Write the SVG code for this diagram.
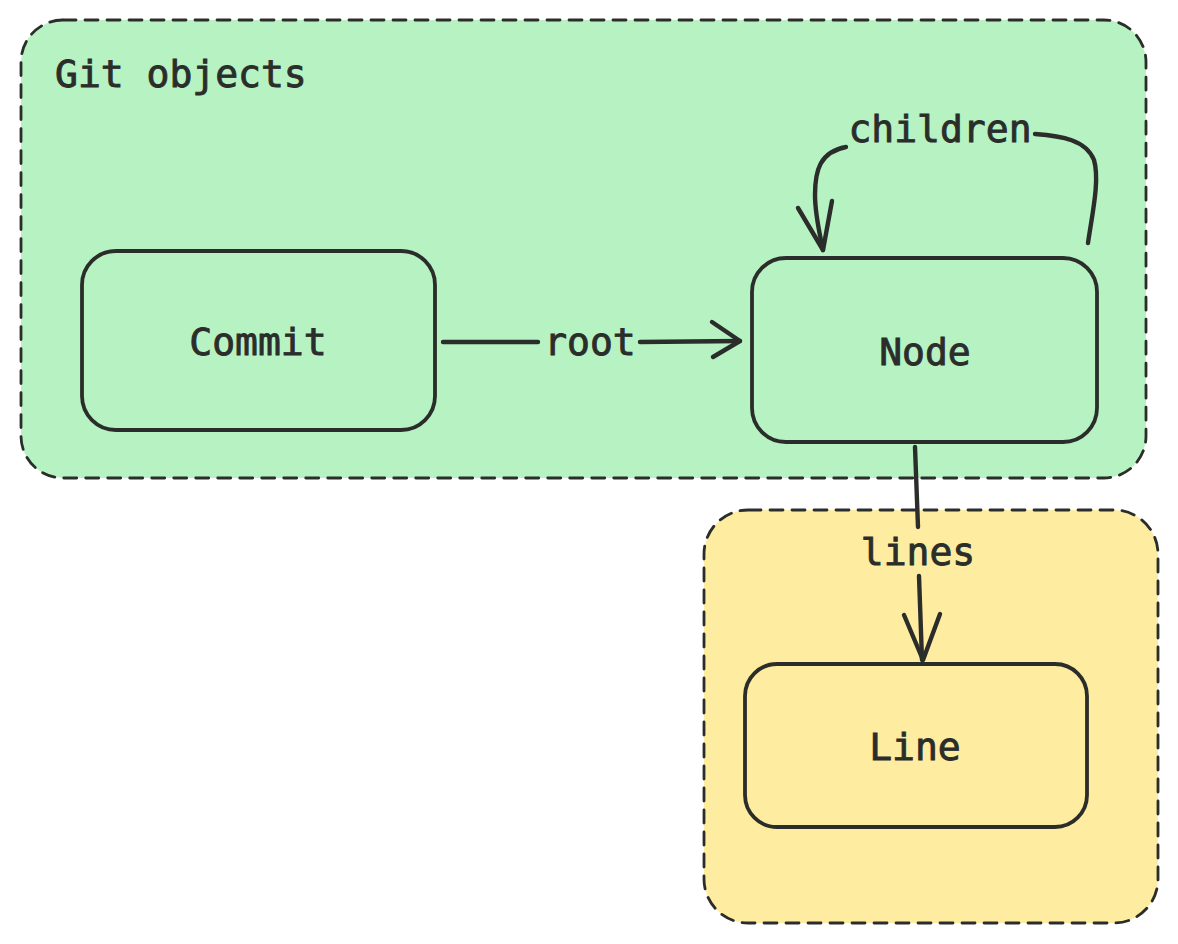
<svg xmlns="http://www.w3.org/2000/svg" width="1178" height="944" viewBox="0 0 1178 944">
<defs>
<style>
.grp{stroke:#2a2d2a;stroke-width:2.8;stroke-dasharray:13 9;stroke-linecap:round}
.box{stroke:#2a2d2a;stroke-width:3.8;stroke-linejoin:round}
.edge{fill:none;stroke:#2a2d2a;stroke-width:4.4;stroke-linecap:round;stroke-linejoin:round}
.t{font-family:"DejaVu Sans Mono","Liberation Mono",monospace;font-size:38px;fill:#2a2d2a;stroke:#2a2d2a;stroke-width:0.9;text-anchor:middle}
</style>
</defs>
<rect width="1178" height="944" fill="#ffffff"/>
<g id="group-git">
<rect class="grp" x="21" y="20" width="1125" height="458" rx="42" fill="#b6f2c2"/>
<text class="t" x="55" y="87" style="text-anchor:start">Git objects</text>
</g>
<g id="group-lines">
<rect class="grp" x="704" y="510" width="454" height="413" rx="44" fill="#feeca0"/>
</g>
<g id="node-commit">
<rect class="box" x="82" y="251" width="353" height="179" rx="34" fill="#b6f2c2"/>
<text class="t" x="258" y="355">Commit</text>
</g>
<g id="node-node">
<rect class="box" x="752" y="258" width="345" height="184" rx="34" fill="#b6f2c2"/>
<text class="t" x="925" y="365">Node</text>
</g>
<g id="node-line">
<rect class="box" x="745" y="664" width="342" height="163" rx="32" fill="#feeca0"/>
<text class="t" x="915" y="760">Line</text>
</g>
<g id="connectors">
<path class="edge" d="M443 342 L538 342"/>
<path class="edge" d="M640 342 L740 341"/>
<path class="edge" d="M712 322 L740 341 L713 357"/>
<text class="t" x="590" y="355">root</text>
<path class="edge" d="M915 447 L918 527"/>
<path class="edge" d="M919 576 L922 660"/>
<path class="edge" d="M904 615 L923 660 L940 614"/>
<text class="t" x="918" y="565">lines</text>
<path class="edge" d="M1088 243 C1092 215 1100 180 1094 160 C1086 140 1062 136 1035 134"/>
<path class="edge" d="M846 147 C820 152 815 170 815 195 C815 215 820 235 823 250"/>
<path class="edge" d="M798 208 L823 250 L832 201"/>
<text class="t" x="940" y="142">children</text>
</g>
</svg>
